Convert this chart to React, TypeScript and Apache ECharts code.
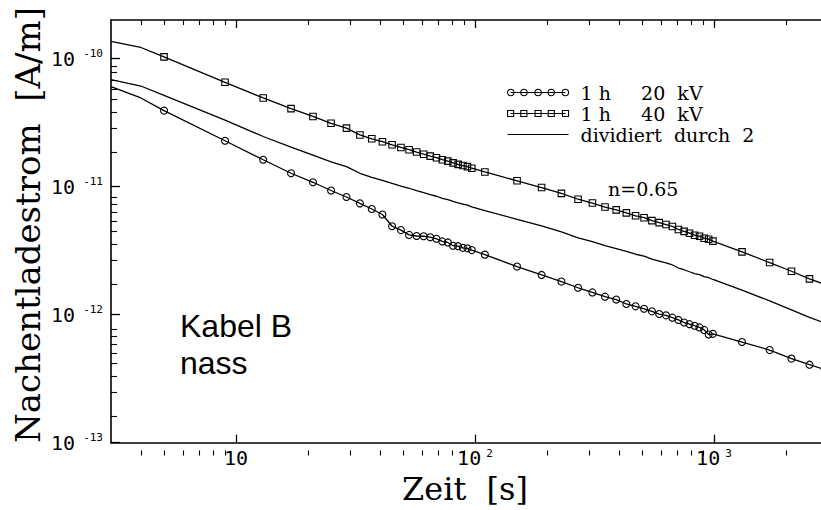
import React, { useEffect, useRef } from 'react';
import * as echarts from 'echarts';

// time points (s); first two points carry no marker
const timeS = [3, 4, 5, 9, 13, 17, 21, 25, 29, 33, 37, 41, 45, 49, 53, 57, 61, 65, 69, 73, 77, 81, 85, 89, 93, 97,
  110, 150, 190, 230, 270, 310, 350, 390, 430, 470, 510, 550, 590, 630, 670, 710, 750, 790, 830, 870, 910, 950, 990,
  1310, 1710, 2110, 2510, 2910];

const current20kV = [6.04e-11, 4.92e-11, 3.92e-11, 2.28e-11, 1.62e-11, 1.27e-11, 1.08e-11, 9.32e-12, 8.29e-12, 7.39e-12,
  6.68e-12, 6.05e-12, 4.90e-12, 4.57e-12, 4.19e-12, 4.11e-12, 4.09e-12, 4.02e-12, 3.91e-12, 3.73e-12, 3.66e-12, 3.45e-12,
  3.42e-12, 3.32e-12, 3.29e-12, 3.19e-12,
  2.94e-12, 2.37e-12, 2.04e-12, 1.81e-12, 1.62e-12, 1.49e-12, 1.38e-12, 1.31e-12, 1.21e-12, 1.16e-12, 1.11e-12, 1.06e-12,
  1.01e-12, 9.86e-13, 9.46e-13, 9.08e-13, 8.67e-13, 8.42e-13, 8.18e-13, 7.94e-13, 7.59e-13, 6.98e-13, 7.07e-13,
  6.10e-13, 5.28e-13, 4.53e-13, 4.06e-13, 3.72e-13];

const current40kV = [1.36e-10, 1.22e-10, 1.03e-10, 6.52e-11, 4.92e-11, 4.06e-11, 3.53e-11, 3.12e-11, 2.86e-11, 2.53e-11,
  2.36e-11, 2.24e-11, 2.12e-11, 2.02e-11, 1.94e-11, 1.86e-11, 1.79e-11, 1.73e-11, 1.68e-11, 1.62e-11, 1.58e-11, 1.53e-11,
  1.49e-11, 1.46e-11, 1.43e-11, 1.39e-11,
  1.30e-11, 1.11e-11, 9.83e-12, 8.85e-12, 7.96e-12, 7.43e-12, 6.92e-12, 6.57e-12, 6.23e-12, 5.91e-12, 5.71e-12, 5.42e-12,
  5.23e-12, 5.05e-12, 4.88e-12, 4.62e-12, 4.47e-12, 4.32e-12, 4.17e-12, 4.09e-12, 3.95e-12, 3.88e-12, 3.75e-12,
  3.09e-12, 2.55e-12, 2.18e-12, 1.90e-12, 1.72e-12];

const currentHalved = [6.85e-11, 6.10e-11, 5.15e-11, 3.30e-11, 2.46e-11, 2.03e-11, 1.76e-11, 1.56e-11, 1.43e-11, 1.27e-11,
  1.18e-11, 1.12e-11, 1.06e-11, 1.01e-11, 9.70e-12, 9.30e-12, 8.95e-12, 8.65e-12, 8.40e-12, 8.10e-12, 7.90e-12, 7.65e-12,
  7.45e-12, 7.30e-12, 7.15e-12, 6.95e-12,
  6.50e-12, 5.55e-12, 4.92e-12, 4.42e-12, 3.98e-12, 3.72e-12, 3.46e-12, 3.28e-12, 3.12e-12, 2.96e-12, 2.86e-12, 2.71e-12,
  2.62e-12, 2.53e-12, 2.44e-12, 2.31e-12, 2.24e-12, 2.16e-12, 2.09e-12, 2.05e-12, 1.98e-12, 1.94e-12, 1.88e-12,
  1.55e-12, 1.28e-12, 1.09e-12, 9.50e-13, 8.60e-13];

const unmarkedCount = 2;

const xMajorTicks = [10, 100, 1000];
const xMinorTicks = [4, 5, 6, 7, 8, 9, 20, 30, 40, 50, 60, 70, 80, 90, 200, 300, 400, 500, 600, 700, 800, 900, 2000, 3000];
const yMajorTicks = [1e-13, 1e-12, 1e-11, 1e-10];
const yMinorTicks = [2e-13, 3e-13, 4e-13, 5e-13, 6e-13, 7e-13, 8e-13, 9e-13,
  2e-12, 3e-12, 4e-12, 5e-12, 6e-12, 7e-12, 8e-12, 9e-12,
  2e-11, 3e-11, 4e-11, 5e-11, 6e-11, 7e-11, 8e-11, 9e-11];

const seriesNames = ['1 h     20  kV', '1 h     40  kV', 'dividiert  durch  2'];

const ICON_CIRCLES = 'path://M4,5L58,5' +
  'M7.2,5A3.2,3.2,0,1,1,0.8,5A3.2,3.2,0,1,1,7.2,5Z' +
  'M20.2,5A3.2,3.2,0,1,1,13.8,5A3.2,3.2,0,1,1,20.2,5Z' +
  'M34.2,5A3.2,3.2,0,1,1,27.8,5A3.2,3.2,0,1,1,34.2,5Z' +
  'M47.2,5A3.2,3.2,0,1,1,40.8,5A3.2,3.2,0,1,1,47.2,5Z' +
  'M61.2,5A3.2,3.2,0,1,1,54.8,5A3.2,3.2,0,1,1,61.2,5Z';
const ICON_SQUARES = 'path://M4,5L58,5' +
  'M1,2h6v6h-6Z M14,2h6v6h-6Z M28,2h6v6h-6Z M41,2h6v6h-6Z M55,2h6v6h-6Z';
const ICON_LINE = 'path://M3,4.6h55v0.8h-55Z';

const MONO = '"DejaVu Sans Mono", monospace';
const SERIF = '"DejaVu Serif", serif';

function buildData(values: number[]) {
  return timeS.map((t, i) => (i < unmarkedCount ? { value: [t, values[i]], symbol: 'none' } : [t, values[i]]));
}

const tickRich = {
  b: { fontFamily: MONO, fontSize: 20, color: '#000', lineHeight: 21 },
  s: { fontFamily: MONO, fontSize: 11, color: '#000', lineHeight: 12, verticalAlign: 'top', padding: [0, 0, 0, 8] },
};

export default function App() {
  const ref = useRef<HTMLDivElement>(null);
  useEffect(() => {
    if (!ref.current) return;
    const chart = echarts.init(ref.current, null, { renderer: 'svg' });
    const gridRect = { left: 111, top: 20, width: 717, height: 435.5 };
    const axisLine = { show: true, lineStyle: { color: '#000', width: 1.6 } };
    const majorTickStyle = { color: '#000', width: 1.3 };
    const minorTickStyle = { color: '#000', width: 1.1 };
    const xBase = { type: 'log', logBase: 10, min: 3, max: 3000, splitLine: { show: false } };
    const yBase = { type: 'log', logBase: 10, min: 1e-13, max: 2e-10, splitLine: { show: false } };
    chart.setOption({
      animation: false,
      backgroundColor: '#fff',
      textStyle: { fontFamily: SERIF, color: '#000' },
      grid: [
        { ...gridRect, containLabel: false },
        { ...gridRect, containLabel: false },
      ],
      xAxis: [
        {
          ...xBase, gridIndex: 0, position: 'bottom', axisLine,
          axisTick: { show: true, inside: true, length: 8, customValues: xMajorTicks, lineStyle: majorTickStyle },
          axisLabel: {
            show: true, customValues: xMajorTicks, margin: 5, color: '#000',
            formatter: (v: number) => {
              const e = Math.round(Math.log10(v));
              return e === 1 ? '{b|10}' : `{b|10}{s|${e}}`;
            },
            rich: {
              b: tickRich.b,
              s: { ...tickRich.s, padding: [0, 0, 0, 5] },
            },
          },
          name: 'Zeit  [s]', nameLocation: 'middle', nameGap: 19,
          nameTextStyle: { fontFamily: SERIF, fontSize: 32, color: '#000', padding: [0, 9, 0, 0] },
        },
        {
          ...xBase, gridIndex: 0, position: 'top', axisLine,
          axisTick: { show: true, inside: true, length: 8, customValues: xMajorTicks, lineStyle: majorTickStyle },
          axisLabel: { show: false },
        },
        {
          ...xBase, gridIndex: 1, position: 'bottom', axisLine: { show: false },
          axisTick: { show: true, inside: true, length: 5, customValues: xMinorTicks, lineStyle: minorTickStyle },
          axisLabel: { show: false },
        },
        {
          ...xBase, gridIndex: 1, position: 'top', axisLine: { show: false },
          axisTick: { show: true, inside: true, length: 5, customValues: xMinorTicks, lineStyle: minorTickStyle },
          axisLabel: { show: false },
        },
      ],
      yAxis: [
        {
          ...yBase, gridIndex: 0, position: 'left', axisLine,
          axisTick: { show: true, inside: true, length: 9, customValues: yMajorTicks, lineStyle: majorTickStyle },
          axisLabel: {
            show: true, customValues: yMajorTicks, margin: 8, color: '#000',
            formatter: (v: number) => {
              const e = Math.round(Math.log10(v));
              return `{b|10}{s|-${Math.abs(e)}}`;
            },
            rich: tickRich,
          },
        },
        {
          ...yBase, gridIndex: 1, position: 'left', axisLine: { show: false },
          axisTick: { show: true, inside: true, length: 6, customValues: yMinorTicks, lineStyle: minorTickStyle },
          axisLabel: { show: false },
        },
      ],
      legend: {
        orient: 'vertical', left: 507, top: 83, padding: 0, itemGap: 2,
        itemWidth: 61, itemHeight: 10, selectedMode: false,
        textStyle: { fontFamily: SERIF, fontSize: 19, color: '#000', lineHeight: 19, padding: [0, 0, 0, 7] },
        data: [
          { name: seriesNames[0], icon: ICON_CIRCLES, itemStyle: { color: 'rgba(0,0,0,0)', borderColor: '#000', borderWidth: 1.1 } },
          { name: seriesNames[1], icon: ICON_SQUARES, itemStyle: { color: 'rgba(0,0,0,0)', borderColor: '#000', borderWidth: 1.1 } },
          { name: seriesNames[2], icon: ICON_LINE, itemStyle: { color: '#000', borderColor: '#000', borderWidth: 0 } },
        ],
      },
      graphic: [
        { type: 'text', x: 28, y: 225, rotation: Math.PI / 2,
          style: { text: 'Nachentladestrom  [A/m]', font: `34px ${SERIF}`, fill: '#000', align: 'center', verticalAlign: 'middle' } },
        { type: 'text', left: 608, top: 179, style: { text: 'n=0.65', font: `19px ${SERIF}`, fill: '#000' } },
        { type: 'text', left: 180, top: 308,
          style: { text: 'Kabel B', font: `32px "Liberation Sans", sans-serif`, lineHeight: 36, fill: '#000' } },
        { type: 'text', left: 180, top: 345,
          style: { text: 'nass', font: `32px "Liberation Sans", sans-serif`, lineHeight: 36, fill: '#000' } },
      ],
      series: [
        {
          name: seriesNames[0], type: 'line', xAxisIndex: 0, yAxisIndex: 0, data: buildData(current20kV),
          symbol: 'circle', symbolSize: 7, showSymbol: true, showAllSymbol: true, clip: true,
          lineStyle: { color: '#000', width: 1.3 },
          itemStyle: { color: 'rgba(0,0,0,0)', borderColor: '#000', borderWidth: 1.1 },
        },
        {
          name: seriesNames[1], type: 'line', xAxisIndex: 0, yAxisIndex: 0, data: buildData(current40kV),
          symbol: 'rect', symbolSize: 6.5, showSymbol: true, showAllSymbol: true, clip: true,
          lineStyle: { color: '#000', width: 1.3 },
          itemStyle: { color: 'rgba(0,0,0,0)', borderColor: '#000', borderWidth: 1.1 },
        },
        {
          name: seriesNames[2], type: 'line', xAxisIndex: 0, yAxisIndex: 0,
          data: timeS.map((t, i) => [t, currentHalved[i]]),
          symbol: 'none', showSymbol: false, clip: true,
          lineStyle: { color: '#000', width: 1.3 },
          itemStyle: { color: '#000' },
        },
      ],
    });
    return () => chart.dispose();
  }, []);
  return (
    <div style={{ position: 'fixed', left: 0, top: 0, width: 821, height: 510, overflow: 'hidden', background: '#fff' }}>
      <div ref={ref} style={{ width: 840, height: 510 }} />
    </div>
  );
}
